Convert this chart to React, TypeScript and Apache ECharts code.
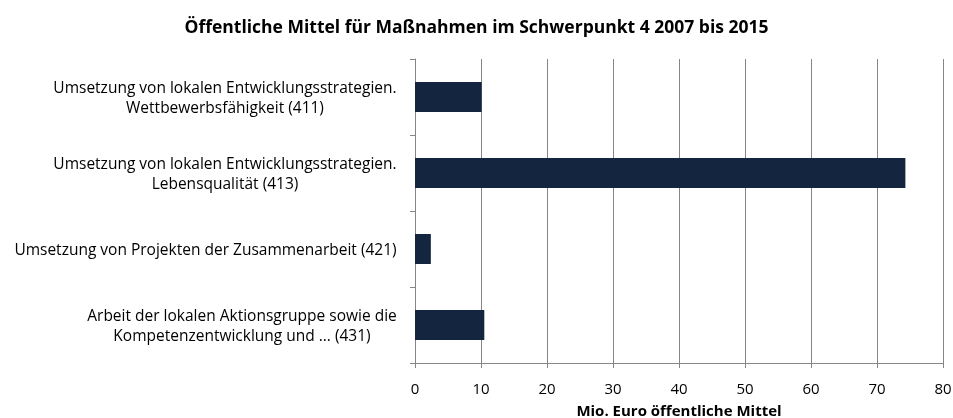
import React, { useEffect, useRef } from "react";
import * as echarts from "echarts";

const titleText = "Öffentliche Mittel für Maßnahmen im Schwerpunkt 4 2007 bis 2015";
const axisName = "Mio. Euro öffentliche Mittel";
const categories = [
  "Umsetzung von lokalen Entwicklungsstrategien.\nWettbewerbsfähigkeit (411)",
  "Umsetzung von lokalen Entwicklungsstrategien.\nLebensqualität (413)",
  "Umsetzung von Projekten der Zusammenarbeit (421)",
  "Arbeit der lokalen Aktionsgruppe sowie die\nKompetenzentwicklung und … (431)",
];
const values = [10.1, 74.3, 2.4, 10.5];

const LABEL_FONT_SIZE = 15.5;
const FONT = "'Open Sans', 'Noto Sans', sans-serif";

function measure(text: string): number {
  const c = document.createElement("canvas").getContext("2d");
  if (!c) return text.length * 8;
  c.font = `${LABEL_FONT_SIZE}px ${FONT}`;
  return c.measureText(text).width;
}

export default function App() {
  const ref = useRef<HTMLDivElement>(null);
  useEffect(() => {
    if (!ref.current) return;
    const chart = echarts.init(ref.current, undefined, { renderer: "svg" });
    const rich: Record<string, any> = {};
    const formatted: Record<string, string> = {};
    categories.forEach((cat, i) => {
      const lines = cat.split("\n");
      const w = Math.ceil(Math.max(...lines.map(measure))) + 2;
      const key = "c" + i;
      rich[key] = {
        width: w,
        align: "center",
        fontSize: LABEL_FONT_SIZE,
        lineHeight: 20,
        color: "#000",
        fontFamily: FONT,
      };
      formatted[cat] = lines.map((l) => `{${key}|${l}}`).join("\n");
    });
    chart.setOption({
      animation: false,
      textStyle: { fontFamily: FONT },
      title: {
        text: titleText,
        left: "center",
        top: 12,
        textStyle: { fontSize: 17.5, fontWeight: "bold", color: "#000", fontFamily: FONT },
      },
      grid: {
        left: 415,
        right: 10,
        top: 59,
        bottom: 55,
        containLabel: false,
        outerBoundsMode: "none",
      },
      xAxis: {
        type: "value",
        min: 0,
        max: 80,
        interval: 10,
        name: axisName,
        nameLocation: "middle",
        nameGap: 39,
        nameTextStyle: { fontSize: 15, fontWeight: "bold", color: "#000", fontFamily: FONT },
        axisLine: { show: true, lineStyle: { color: "#868686", width: 1 } },
        axisTick: { show: true, length: 5, lineStyle: { color: "#868686" } },
        axisLabel: { fontSize: 15, color: "#000", margin: 17, fontFamily: FONT },
        splitLine: { show: true, lineStyle: { color: "#868686", width: 1 } },
      },
      yAxis: {
        type: "category",
        data: categories,
        inverse: true,
        axisLine: { show: true, lineStyle: { color: "#868686", width: 1 } },
        axisTick: { show: true, length: 5, lineStyle: { color: "#868686" } },
        axisLabel: {
          fontSize: LABEL_FONT_SIZE,
          color: "#000",
          margin: 17,
          lineHeight: 20,
          align: "right",
          fontFamily: FONT,
          formatter: (v: string) => formatted[v] ?? v,
          rich,
        },
        splitLine: { show: false },
      },
      series: [
        {
          type: "bar",
          data: values,
          barWidth: 30,
          itemStyle: { color: "#14263f" },
        },
      ],
    });
    return () => chart.dispose();
  }, []);
  return (
    <div
      ref={ref}
      style={{ position: "fixed", left: 0, top: 0, width: 953, height: 418 }}
    />
  );
}
